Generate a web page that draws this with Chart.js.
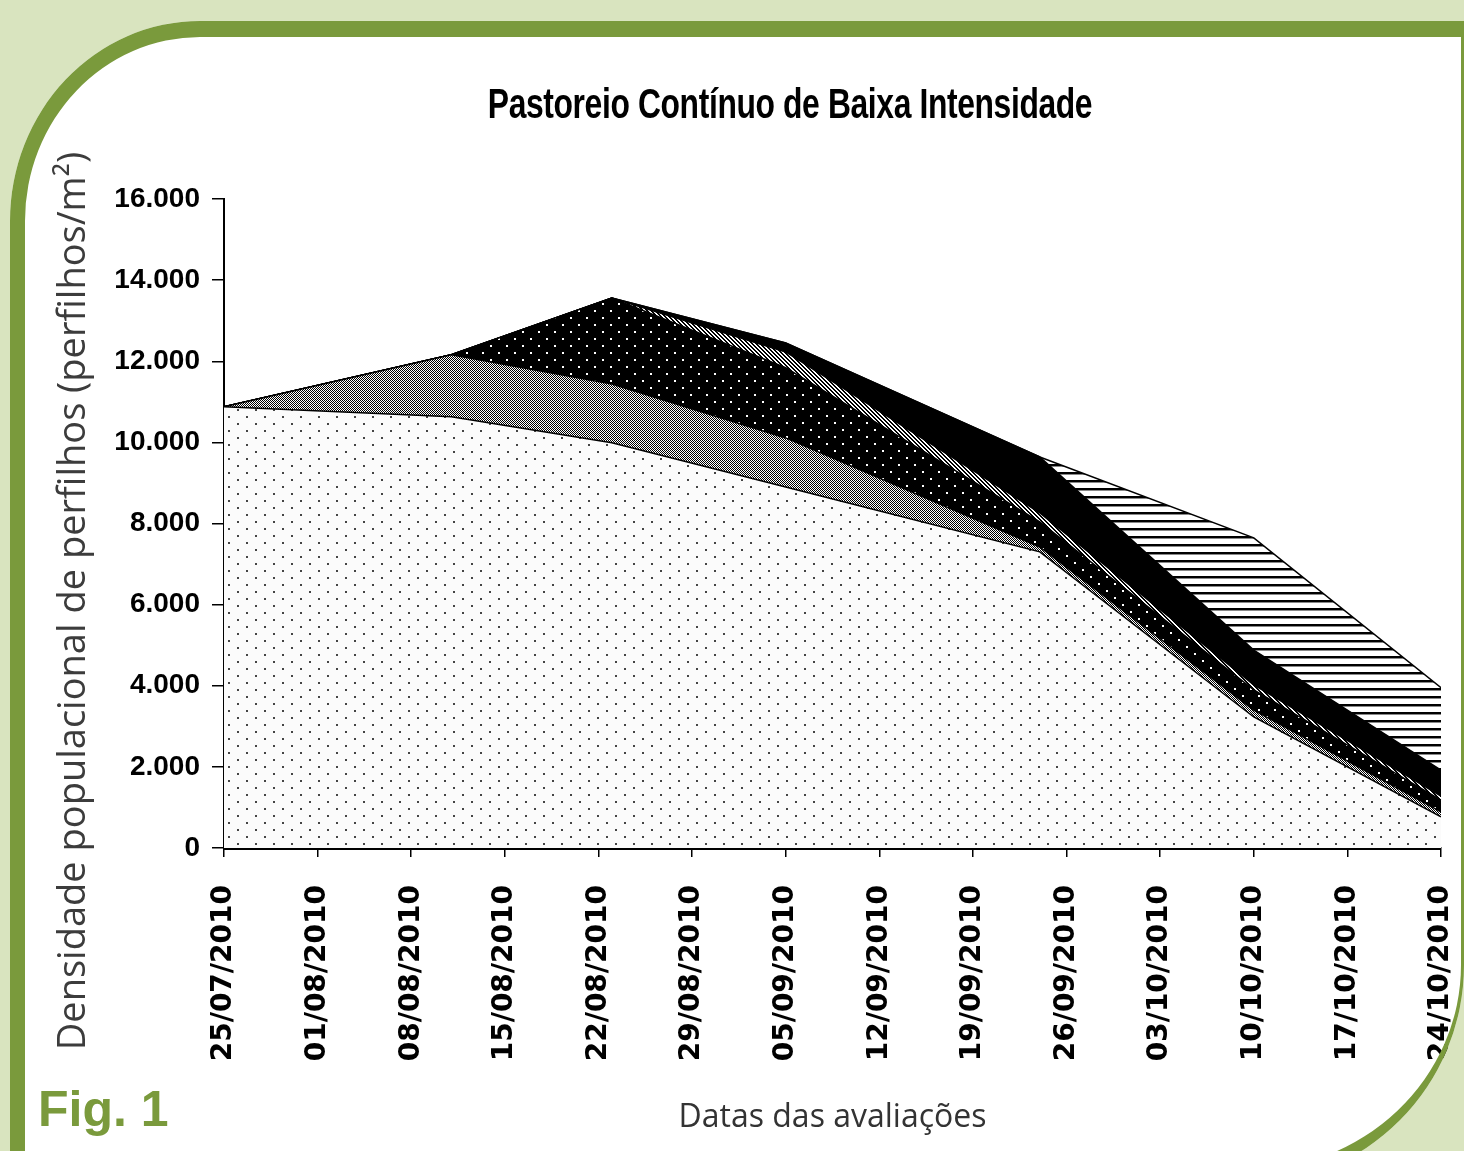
<!DOCTYPE html>
<html>
<head>
  <meta charset="utf-8">
  <title>Pastoreio Contínuo de Baixa Intensidade</title>
  <script src="https://cdn.jsdelivr.net/npm/chart.js"></script>
  <style>
    html, body { margin: 0; padding: 0; }
    body { position: relative; width: 1464px; height: 1151px; overflow: hidden; background: #fff; }
    #tillers { position: absolute; left: 0; top: 0; }
    #frame {
      position: absolute; left: 10px; top: 21px; width: 1454px; height: 1164px;
      box-sizing: border-box; border: solid #7a9a3c; border-width: 16px 3px 14px 15px;
      border-top-left-radius: 190px 200px; border-bottom-right-radius: 220px;
      box-shadow: 0 0 0 700px #d9e4bf; pointer-events: none;
    }
    #chartTitle {
      position: absolute; left: 790px; top: 82px; white-space: nowrap;
      transform: translateX(-50%) scaleX(0.74);
      font: bold 43px/43px 'Liberation Sans', Arial, sans-serif; letter-spacing: -0.5px; color: #000;
    }
    #yTitle {
      position: absolute; left: 70px; top: 601px; white-space: nowrap;
      transform: translate(-50%, -50%) rotate(-90deg);
      font: 38px 'Open Sans', sans-serif; color: #3c3c3c;
    }
    #figLabel {
      position: absolute; left: 38px; top: 1084px;
      font: bold 50px/50px 'Liberation Sans', Arial, sans-serif; color: #7a9a3c;
    }
  </style>
</head>
<body>
  <canvas id="tillers" width="1464" height="1151"></canvas>
  <div id="frame"></div>
  <div id="chartTitle">Pastoreio Contínuo de Baixa Intensidade</div>
  <div id="yTitle">Densidade populacional de perfilhos (perfilhos/m²)</div>
  <div id="figLabel">Fig. 1</div>

  <script>
    // evaluation dates (x) and tick labels
    const sampleDates = ['25/07/2010', '11/08/2010', '23/08/2010', '05/09/2010', '24/09/2010', '10/10/2010', '24/10/2010'];
    const tickDates = ['25/07/2010', '01/08/2010', '08/08/2010', '15/08/2010', '22/08/2010', '29/08/2010', '05/09/2010',
                       '12/09/2010', '19/09/2010', '26/09/2010', '03/10/2010', '10/10/2010', '17/10/2010', '24/10/2010'];

    // tiller density per layer (stacked, bottom to top)
    const layerLightDots  = [10880, 10630, 9990, 8900, 7300, 3230, 770];
    const layerGray       = [0, 1530, 1450, 1210, 120, 170, 120];
    const layerBlackDots  = [0, 0, 2120, 1730, 620, 500, 290];
    const layerDiagonal   = [0, 0, 0, 390, 220, 120, 100];
    const layerBlack      = [0, 0, 0, 220, 1380, 860, 640];
    const layerHorizontal = [0, 0, 0, 0, 0, 2765, 2030];

    const yMax = 16000;
    const yStep = 2000;

    function dayOffset(s) {
      const [d, m, y] = s.split('/').map(Number);
      const [d0, m0, y0] = tickDates[0].split('/').map(Number);
      return Math.round((Date.UTC(y, m - 1, d) - Date.UTC(y0, m0 - 1, d0)) / 86400000);
    }

    function points(values) {
      return sampleDates.map((s, i) => ({ x: dayOffset(s), y: values[i] }));
    }

    function makePattern(w, h, draw) {
      const c = document.createElement('canvas');
      c.width = w;
      c.height = h;
      const g = c.getContext('2d');
      draw(g);
      return g.createPattern(c, 'repeat');
    }

    const lightDots = makePattern(18, 14, g => {
      g.fillStyle = '#fbfbfb'; g.fillRect(0, 0, 18, 14);
      g.fillStyle = '#444'; g.fillRect(3, 3, 2, 2); g.fillRect(12, 10, 2, 2);
    });
    const grayChecker = makePattern(2, 2, g => {
      g.fillStyle = '#fff'; g.fillRect(0, 0, 2, 2);
      g.fillStyle = '#000'; g.fillRect(0, 0, 1, 1); g.fillRect(1, 1, 1, 1);
    });
    const blackDots = makePattern(16, 14, g => {
      g.fillStyle = '#000'; g.fillRect(0, 0, 16, 14);
      g.fillStyle = '#fff'; g.fillRect(2, 2, 2, 2); g.fillRect(10, 9, 2, 2);
    });
    const diagonal = makePattern(4, 4, g => {
      g.fillStyle = '#fff'; g.fillRect(0, 0, 4, 4);
      g.fillStyle = '#000';
      for (let y = 0; y < 4; y++)
        for (let x = 0; x < 4; x++)
          if ((x - y + 4) % 4 < 2) g.fillRect(x, y, 1, 1);
    });
    const horizontal = makePattern(4, 8, g => {
      g.fillStyle = '#fff'; g.fillRect(0, 0, 4, 8);
      g.fillStyle = '#000'; g.fillRect(0, 0, 4, 2);
      g.fillStyle = '#888'; g.fillRect(0, 2, 4, 1);
    });

    function layer(label, values, fill, bg) {
      return {
        label: label,
        data: points(values),
        backgroundColor: bg,
        borderColor: '#000',
        borderWidth: 1.5,
        pointRadius: 0,
        tension: 0,
        fill: fill
      };
    }

    const ctx = document.getElementById('tillers').getContext('2d');
    new Chart(ctx, {
      type: 'line',
      data: {
        datasets: [
          layer('Camada 1', layerLightDots, 'origin', lightDots),
          layer('Camada 2', layerGray, '-1', grayChecker),
          layer('Camada 3', layerBlackDots, '-1', blackDots),
          layer('Camada 4', layerDiagonal, '-1', diagonal),
          layer('Camada 5', layerBlack, '-1', '#000'),
          layer('Camada 6', layerHorizontal, '-1', horizontal)
        ]
      },
      options: {
        responsive: false,
        animation: false,
        layout: { padding: { left: 30, right: 23, top: 199, bottom: 10 } },
        plugins: {
          legend: { display: false },
          tooltip: { enabled: false }
        },
        scales: {
          x: {
            type: 'linear',
            min: 0,
            max: dayOffset(tickDates[tickDates.length - 1]),
            afterBuildTicks: s => { s.ticks = tickDates.map(t => ({ value: dayOffset(t) })); },
            afterFit: s => {
              s.height = 293;
              // rotated end labels may overhang; keep plot edge at the page's axis end
              s.paddingLeft = 0;
              s.paddingRight = 0;
            },
            ticks: {
              autoSkip: false,
              maxRotation: 90,
              minRotation: 90,
              padding: 28,
              color: '#000',
              font: { family: 'DejaVu Sans', weight: 'bold', size: 28 },
              callback: (v, i) => tickDates[i]
            },
            grid: { drawOnChartArea: false, tickLength: 9, color: '#000', lineWidth: 1.5 },
            border: { display: true, color: '#000', width: 3 },
            title: {
              display: true,
              text: 'Datas das avaliações',
              color: '#333',
              font: { family: 'Open Sans', size: 32 },
              padding: { top: 0, bottom: 4 }
            }
          },
          y: {
            stacked: true,
            min: 0,
            max: yMax,
            afterFit: s => { s.width = 194; },
            ticks: {
              stepSize: yStep,
              padding: 12,
              color: '#000',
              font: { family: 'Liberation Sans', weight: 'bold', size: 28 },
              callback: v => String(v).replace(/\B(?=(\d{3})+(?!\d))/g, '.')
            },
            grid: { drawOnChartArea: false, tickLength: 12, color: '#000', lineWidth: 1.5 },
            border: { display: true, color: '#000', width: 2 }
          }
        }
      }
    });
  </script>
</body>
</html>
